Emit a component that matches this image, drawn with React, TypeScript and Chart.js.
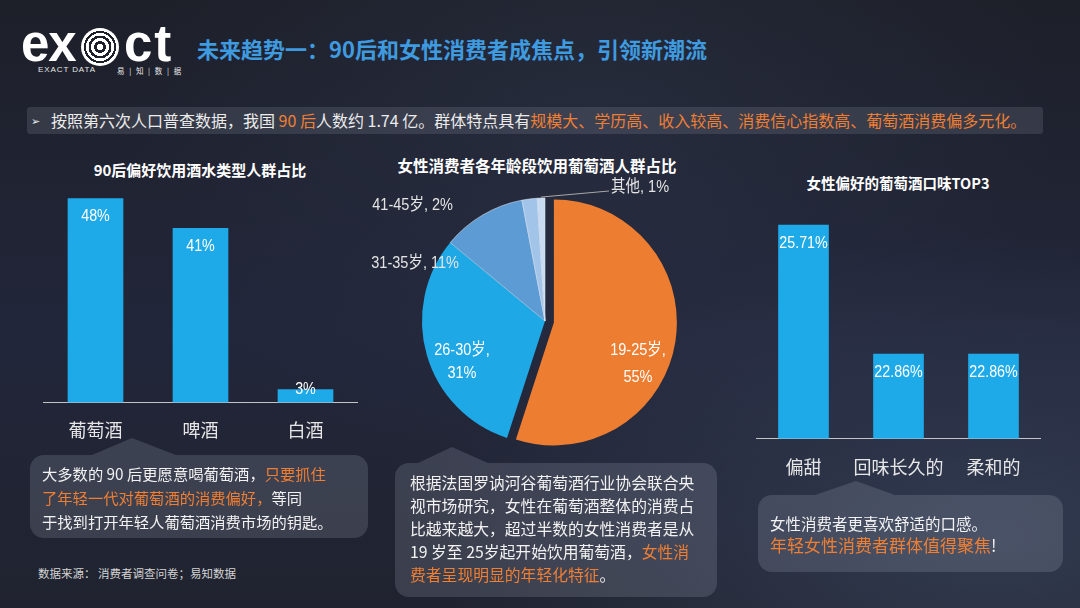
import React, { useEffect, useRef } from 'react';
import { Chart, registerables } from 'chart.js';

Chart.register(...registerables);

// ---------- data ----------
const drinkCategories = ['葡萄酒', '啤酒', '白酒'];
const drinkShares = [48, 41, 3];

const ageGroups = ['19-25岁', '26-30岁', '31-35岁', '41-45岁', '其他'];
const ageShares = [55, 31, 11, 2, 1];

const tasteCategories = ['偏甜', '回味长久的', '柔和的'];
const tasteShares = [25.71, 22.86, 22.86];

// ---------- styles ----------
const CJK = "'Noto Sans CJK SC', 'Noto Sans', sans-serif";
const LAT = "'Liberation Sans', Arial, 'Noto Sans CJK SC', sans-serif";
const BAR_COLOR = '#1eaae9';
const ORANGE = '#f07f33';
const PIE_COLORS = ['#ed7d31', '#1fa8e6', '#5d9bd5', '#a2c4e8', '#c8dbf1'];
const PIE_BORDER_WIDTHS = [0, 0, 0.8, 0.8, 0.8];

const pieLabelLayout: any[] = [
  { dx: 93, dy: 29, dy2: 56, align: 'center', split: true, color: '#ffffff' },
  { dx: -83, dy: 29, dy2: 52, align: 'center', split: true, color: '#ffffff' },
  { dx: -86, dy: -58, align: 'right', color: '#e4e4e4' },
  { dx: -92, dy: -116, align: 'right', color: '#e4e4e4' },
  { dx: 66, dy: -134, align: 'left', color: '#e4e4e4', leader: true },
];
const EXPLODE_INDEX = 0;
const EXPLODE_DIST = 9;

function drawNarrow(ctx: CanvasRenderingContext2D, text: string, x: number, y: number, sx: number) {
  ctx.save();
  ctx.translate(x, y);
  ctx.scale(sx, 1);
  ctx.fillText(text, 0, 0);
  ctx.restore();
}

function valueLabelPlugin(fmt: (v: number) => string) {
  return {
    id: 'valueLabels',
    afterDatasetsDraw(chart: any) {
      const ctx = chart.ctx as CanvasRenderingContext2D;
      const meta = chart.getDatasetMeta(0);
      const data = chart.data.datasets[0].data as number[];
      ctx.save();
      ctx.fillStyle = '#ffffff';
      ctx.font = `17px ${LAT}`;
      ctx.textAlign = 'center';
      ctx.textBaseline = 'middle';
      meta.data.forEach((bar: any, i: number) => {
        const { x, y, base } = bar.getProps(['x', 'y', 'base'], true);
        const ty = Math.min(y + 18, base - 13);
        drawNarrow(ctx, fmt(data[i]), x, ty, 0.84);
      });
      ctx.restore();
    },
  };
}

interface BarProps {
  labels: string[];
  values: number[];
  min: number;
  max: number;
  left: number;
  top: number;
  width: number;
  height: number;
  padTop: number;
  tickPad: number;
  thickness: number;
  fmt: (v: number) => string;
}

function BarChart(p: BarProps) {
  const ref = useRef<HTMLCanvasElement>(null);
  useEffect(() => {
    const chart = new Chart(ref.current as HTMLCanvasElement, {
      type: 'bar',
      data: {
        labels: p.labels,
        datasets: [
          {
            data: p.values,
            backgroundColor: BAR_COLOR,
            borderWidth: 0,
            barThickness: p.thickness,
          },
        ],
      },
      options: {
        animation: false,
        responsive: false,
        maintainAspectRatio: false,
        layout: { padding: { top: p.padTop, left: 0, right: 0, bottom: 0 } },
        plugins: { legend: { display: false }, tooltip: { enabled: false } },
        scales: {
          x: {
            grid: { display: false, drawTicks: false },
            border: { display: true, color: '#c4c4c4', width: 1 },
            ticks: {
              color: '#e6e6e6',
              font: { family: CJK, size: 18 },
              padding: p.tickPad,
              autoSkip: false,
              maxRotation: 0,
              minRotation: 0,
            },
          },
          y: { display: false, min: p.min, max: p.max },
        },
      },
      plugins: [valueLabelPlugin(p.fmt)],
    } as any);
    return () => chart.destroy();
  }, []);
  return (
    <canvas
      ref={ref}
      width={p.width}
      height={p.height}
      style={{ position: 'absolute', left: p.left, top: p.top, width: p.width, height: p.height }}
    />
  );
}

const explodePlugin = {
  id: 'explode',
  beforeDatasetsDraw(chart: any) {
    const arc: any = chart.getDatasetMeta(0).data[EXPLODE_INDEX];
    if (!arc) return;
    const mid = (arc.startAngle + arc.endAngle) / 2;
    arc._ox = arc.x;
    arc._oy = arc.y;
    arc.x = arc._ox + Math.cos(mid) * EXPLODE_DIST;
    arc.y = arc._oy + Math.sin(mid) * EXPLODE_DIST;
  },
  afterDatasetsDraw(chart: any) {
    const arc: any = chart.getDatasetMeta(0).data[EXPLODE_INDEX];
    if (!arc || arc._ox === undefined) return;
    arc.x = arc._ox;
    arc.y = arc._oy;
  },
};

const pieLabelPlugin = {
  id: 'pieLabels',
  afterDatasetsDraw(chart: any) {
    const ctx = chart.ctx as CanvasRenderingContext2D;
    const meta = chart.getDatasetMeta(0);
    const { chartArea } = chart;
    const cx = (chartArea.left + chartArea.right) / 2;
    const cy = (chartArea.top + chartArea.bottom) / 2;
    const labels = chart.data.labels as string[];
    const data = chart.data.datasets[0].data as number[];
    ctx.save();
    ctx.font = `16.5px ${LAT}`;
    ctx.textBaseline = 'middle';
    labels.forEach((lab, i) => {
      const L = pieLabelLayout[i];
      ctx.fillStyle = L.color;
      ctx.textAlign = L.align;
      if (L.split) {
        drawNarrow(ctx, `${lab},`, cx + L.dx, cy + L.dy, 0.88);
        drawNarrow(ctx, `${data[i]}%`, cx + L.dx, cy + L.dy2, 0.88);
      } else {
        drawNarrow(ctx, `${lab}, ${data[i]}%`, cx + L.dx, cy + L.dy, 0.88);
      }
      if (L.leader) {
        const arc: any = meta.data[i];
        const mid = (arc.startAngle + arc.endAngle) / 2;
        const r = arc.outerRadius + 1;
        ctx.strokeStyle = '#a8a8a8';
        ctx.lineWidth = 1;
        ctx.beginPath();
        ctx.moveTo(cx + Math.cos(mid) * r, cy + Math.sin(mid) * r);
        ctx.lineTo(cx + L.dx - 2, cy + L.dy + 4);
        ctx.stroke();
      }
    });
    ctx.restore();
  },
};

function PieChart() {
  const ref = useRef<HTMLCanvasElement>(null);
  useEffect(() => {
    const chart = new Chart(ref.current as HTMLCanvasElement, {
      type: 'pie',
      data: {
        labels: ageGroups,
        datasets: [
          {
            data: ageShares,
            backgroundColor: PIE_COLORS,
            borderWidth: PIE_BORDER_WIDTHS,
            borderColor: 'rgba(225,235,248,0.7)',
            radius: 123,
          },
        ],
      },
      options: {
        animation: false,
        responsive: false,
        maintainAspectRatio: false,
        layout: { padding: 0 },
        plugins: { legend: { display: false }, tooltip: { enabled: false } },
      },
      plugins: [explodePlugin, pieLabelPlugin],
    } as any);
    return () => chart.destroy();
  }, []);
  return (
    <canvas
      ref={ref}
      width={380}
      height={292}
      style={{ position: 'absolute', left: 355, top: 175, width: 380, height: 292 }}
    />
  );
}

const abs = (s: React.CSSProperties): React.CSSProperties => ({ position: 'absolute', ...s });
const O = (t: string) => <span style={{ color: ORANGE }}>{t}</span>;

function Bubble(props: {
  left: number; top: number; width: number; height: number;
  pLeft: number; pApex: number; pWidth: number; pHeight: number;
  children: React.ReactNode; padTop: number; padLeft: number;
}) {
  const bg = 'rgba(205,212,228,0.16)';
  const apexPct = ((props.pApex - props.pLeft) / props.pWidth) * 100;
  return (
    <>
      <div
        style={abs({
          left: props.pLeft, top: props.top - props.pHeight, width: props.pWidth, height: props.pHeight,
          background: bg, clipPath: `polygon(0 100%, ${apexPct}% 0, 100% 100%)`,
        })}
      />
      <div
        style={abs({
          left: props.left, top: props.top, width: props.width, height: props.height,
          background: bg, borderRadius: 14, boxSizing: 'border-box',
          paddingTop: props.padTop, paddingLeft: props.padLeft, color: '#f2f2f2', whiteSpace: 'nowrap',
        })}
      >
        {props.children}
      </div>
    </>
  );
}

export default function App() {
  return (
    <div
      style={{
        position: 'fixed', left: 0, top: 0, width: 1080, height: 608, overflow: 'hidden',
        fontFamily: CJK,
        background:
          'radial-gradient(ellipse at 92% 88%, rgba(80,100,135,0.35), rgba(0,0,0,0) 40%), radial-gradient(ellipse at 55% 20%, rgba(60,70,100,0.25), rgba(0,0,0,0) 55%), linear-gradient(180deg, #1d2029 0%, #22263a 55%, #20232f 100%)',
      }}
    >
      {/* logo */}
      <div style={abs({ left: 21, top: 19, fontFamily: LAT, fontWeight: 700, fontSize: 51, lineHeight: '50px', color: '#fff', letterSpacing: -1 })}>ex</div>
      <div
        style={abs({
          left: 81, top: 28, width: 38, height: 38, borderRadius: '50%',
          background:
            'radial-gradient(circle, #fff 0 3px, rgba(0,0,0,0) 3px 6px, #fff 6px 9px, rgba(0,0,0,0) 9px 11.5px, #fff 11.5px 14px, rgba(0,0,0,0) 14px 16px, #fff 16px 19px)',
        })}
      />
      <div style={abs({ left: 124, top: 19, fontFamily: LAT, fontWeight: 700, fontSize: 51, lineHeight: '50px', color: '#fff', letterSpacing: 2 })}>ct</div>
      <div style={abs({ left: 38, top: 65, fontFamily: LAT, fontSize: 8, color: '#e8e8e8', letterSpacing: 0.9 })}>EXACT DATA</div>
      <div style={abs({ left: 117, top: 65, fontSize: 7.5, color: '#e8e8e8', letterSpacing: 1.5 })}>易 | 知 | 数 | 据</div>

      {/* title */}
      <div style={abs({ left: 197, top: 33, fontSize: 22, lineHeight: '30px', fontWeight: 700, color: '#3f9be0', whiteSpace: 'nowrap' })}>
        未来趋势一：90后和女性消费者成焦点，引领新潮流
      </div>

      {/* banner */}
      <div style={abs({ left: 27, top: 107, width: 1016, height: 27, background: 'rgba(210,215,230,0.13)', borderRadius: 3 })} />
      <div style={abs({ left: 31, top: 107, lineHeight: '27px', fontSize: 11, color: '#f0f0f0' })}>➢</div>
      <div style={abs({ left: 51, top: 107, lineHeight: '27px', fontSize: 16, color: '#ececec', whiteSpace: 'nowrap' })}>
        按照第六次人口普查数据，我国 {O('90 后')}人数约 1.74 亿。群体特点具有{O('规模大、学历高、收入较高、消费信心指数高、葡萄酒消费偏多元化。')}
      </div>

      {/* chart titles */}
      <div style={abs({ left: 50, top: 158, width: 300, textAlign: 'center', fontSize: 15, lineHeight: '24px', fontWeight: 700, color: '#fff' })}>
        90后偏好饮用酒水类型人群占比
      </div>
      <div style={abs({ left: 387, top: 153, width: 300, textAlign: 'center', fontSize: 15.5, lineHeight: '24px', fontWeight: 700, color: '#fff' })}>
        女性消费者各年龄段饮用葡萄酒人群占比
      </div>
      <div style={abs({ left: 748, top: 171, width: 300, textAlign: 'center', fontSize: 14.5, lineHeight: '24px', fontWeight: 700, color: '#fff' })}>
        女性偏好的葡萄酒口味TOP3
      </div>

      <BarChart
        labels={drinkCategories}
        values={drinkShares}
        min={0}
        max={50}
        left={43}
        top={180}
        width={315}
        height={278}
        padTop={10}
        tickPad={17}
        thickness={55}
        fmt={(v) => `${v}%`}
      />
      <PieChart />
      <BarChart
        labels={tasteCategories}
        values={tasteShares}
        min={21}
        max={26}
        left={756}
        top={200}
        width={285}
        height={296}
        padTop={12}
        tickPad={18}
        thickness={50}
        fmt={(v) => `${v.toFixed(2)}%`}
      />

      {/* bubbles */}
      <Bubble left={30} top={455} width={338} height={83} pLeft={92} pApex={132} pWidth={84} pHeight={17} padTop={6} padLeft={12}>
        <div style={{ fontSize: 15.3, lineHeight: '24px' }}>
          大多数的 90 后更愿意喝葡萄酒，{O('只要抓住')}
          <br />
          {O('了年轻一代对葡萄酒的消费偏好，')}等同
          <br />
          于找到打开年轻人葡萄酒消费市场的钥匙。
        </div>
      </Bubble>
      <Bubble left={395} top={463} width={322} height={134} pLeft={418} pApex={452} pWidth={70} pHeight={16} padTop={8} padLeft={15}>
        <div style={{ fontSize: 15.8, lineHeight: '23px' }}>
          根据法国罗讷河谷葡萄酒行业协会联合央
          <br />
          视市场研究，女性在葡萄酒整体的消费占
          <br />
          比越来越大，超过半数的女性消费者是从
          <br />
          19 岁至 25岁起开始饮用葡萄酒，{O('女性消')}
          <br />
          {O('费者呈现明显的年轻化特征')}。
        </div>
      </Bubble>
      <Bubble left={758} top={495} width={305} height={77} pLeft={815} pApex={856} pWidth={80} pHeight={14} padTop={17} padLeft={12}>
        <div style={{ fontSize: 15.5, lineHeight: '22px' }}>女性消费者更喜欢舒适的口感。</div>
        <div style={{ fontSize: 17, lineHeight: '22px' }}>
          {O('年轻女性消费者群体值得聚焦')}!
        </div>
      </Bubble>

      {/* source */}
      <div style={abs({ left: 38, top: 565, fontSize: 11.5, lineHeight: '16px', color: '#d4d4d4', whiteSpace: 'nowrap' })}>
        数据来源： 消费者调查问卷；易知数据
      </div>
    </div>
  );
}
